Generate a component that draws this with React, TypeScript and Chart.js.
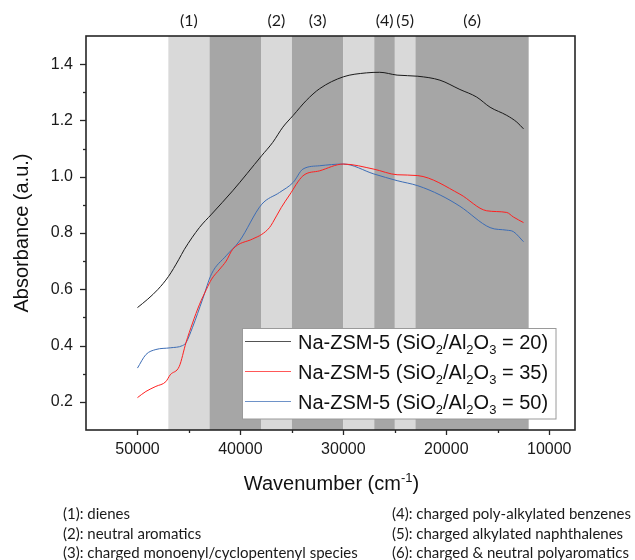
import React, { useEffect, useRef } from 'react';
import { Chart, registerables } from 'chart.js';

Chart.register(...registerables);

// ---- data ----
const WN_20 = [50000, 49000, 48000, 47000, 46000, 45440, 43990, 42800, 40750, 37930, 36860, 35880, 34870, 33600, 32300, 30000, 27760, 26470, 24780, 22770, 20620, 18680, 17050, 15750, 14130, 13150, 12500];
const ABS_20 = [0.535, 0.565, 0.6, 0.645, 0.705, 0.742, 0.819, 0.867, 0.95, 1.075, 1.122, 1.176, 1.218, 1.271, 1.313, 1.355, 1.369, 1.371, 1.361, 1.357, 1.343, 1.31, 1.283, 1.247, 1.218, 1.194, 1.17];

const WN_35 = [50000, 49180, 48210, 47240, 46820, 45940, 45290, 44650, 43990, 43300, 42800, 42000, 41390, 40750, 38800, 37930, 37180, 36860, 36040, 35230, 33930, 32300, 30000, 27050, 24780, 22770, 18680, 16080, 14130, 13490, 12500];
const ABS_35 = [0.215, 0.237, 0.255, 0.272, 0.296, 0.326, 0.41, 0.48, 0.545, 0.6, 0.636, 0.672, 0.7, 0.742, 0.779, 0.795, 0.819, 0.837, 0.89, 0.935, 1.003, 1.021, 1.045, 1.027, 1.007, 1.004, 0.938, 0.879, 0.873, 0.857, 0.837];

const WN_50 = [50000, 49180, 48210, 46820, 45620, 45290, 44650, 43670, 42800, 41390, 40100, 37930, 36200, 34870, 33930, 32300, 30000, 27050, 24780, 22770, 20600, 18680, 15750, 14130, 13490, 12500];
const ABS_50 = [0.32, 0.368, 0.386, 0.392, 0.4, 0.41, 0.465, 0.565, 0.655, 0.719, 0.771, 0.902, 0.944, 0.98, 1.027, 1.039, 1.045, 1.01, 0.986, 0.968, 0.935, 0.895, 0.819, 0.81, 0.805, 0.769];

const SERIES_RATIOS = ['20', '35', '50'];
const SERIES_COLORS = ['#1a1a1a', '#ff2020', '#3d6db5'];

const BAND_EDGES = [47000, 43000, 38000, 35000, 30000, 27000, 25000, 23000, 12000];
const BAND_SHADES = ['#d9d9d9', '#a6a6a6', '#d9d9d9', '#a6a6a6', '#d9d9d9', '#a6a6a6', '#d9d9d9', '#a6a6a6'];
const BAND_LABELS = ['(1)', '', '(2)', '(3)', '', '(4)', '(5)', '(6)'];

const X_MAJOR = [50000, 40000, 30000, 20000, 10000];
const X_MINOR = [45000, 35000, 25000, 15000];
const Y_MAJOR = [0.2, 0.4, 0.6, 0.8, 1.0, 1.2, 1.4];
const Y_MINOR = [0.3, 0.5, 0.7, 0.9, 1.1, 1.3];

const NOTES_LEFT = ['(1): dienes', '(2): neutral aromatics', '(3): charged monoenyl/cyclopentenyl species'];
const NOTES_RIGHT = ['(4): charged poly-alkylated benzenes', '(5): charged alkylated naphthalenes', '(6): charged & neutral polyaromatics'];

const ARIAL = '"Liberation Sans", Arial, sans-serif';
const CALIBRI = 'Lato, "Open Sans", sans-serif';

type Part = { t: string; sub?: boolean; sup?: boolean };

function drawRich(ctx: CanvasRenderingContext2D, parts: Part[], x: number, y: number, size: number, align: 'left' | 'center') {
  const small = Math.round(size * 0.66);
  let total = 0;
  for (const p of parts) {
    ctx.font = `${p.sub || p.sup ? small : size}px ${ARIAL}`;
    total += ctx.measureText(p.t).width;
  }
  let cx = align === 'center' ? x - total / 2 : x;
  ctx.textAlign = 'left';
  ctx.textBaseline = 'alphabetic';
  for (const p of parts) {
    ctx.font = `${p.sub || p.sup ? small : size}px ${ARIAL}`;
    const dy = p.sub ? size * 0.28 : p.sup ? -size * 0.42 : 0;
    ctx.fillText(p.t, cx, y + dy);
    cx += ctx.measureText(p.t).width;
  }
}

const decorPlugin = {
  id: 'decor',
  beforeDatasetsDraw(chart: any) {
    const { ctx, chartArea } = chart;
    const xs = chart.scales.x;
    ctx.save();
    for (let i = 0; i < BAND_SHADES.length; i++) {
      const a = xs.getPixelForValue(BAND_EDGES[i]);
      const b = xs.getPixelForValue(BAND_EDGES[i + 1]);
      ctx.fillStyle = BAND_SHADES[i];
      ctx.fillRect(a, chartArea.top, b - a, chartArea.bottom - chartArea.top);
    }
    ctx.restore();
  },
  afterDatasetsDraw(chart: any) {
    const { ctx, chartArea } = chart;
    const xs = chart.scales.x;
    const ys = chart.scales.y;
    const { left, right, top, bottom } = chartArea;
    ctx.save();
    // frame
    ctx.strokeStyle = '#262626';
    ctx.lineWidth = 1.6;
    ctx.strokeRect(left, top, right - left, bottom - top);
    // x ticks
    ctx.lineWidth = 1.3;
    for (const v of X_MAJOR) {
      const px = Math.round(xs.getPixelForValue(v)) + 0.5;
      ctx.beginPath(); ctx.moveTo(px, bottom); ctx.lineTo(px, bottom + 5); ctx.stroke();
    }
    for (const v of X_MINOR) {
      const px = Math.round(xs.getPixelForValue(v)) + 0.5;
      ctx.beginPath(); ctx.moveTo(px, bottom); ctx.lineTo(px, bottom + 3); ctx.stroke();
    }
    for (const v of Y_MAJOR) {
      const py = Math.round(ys.getPixelForValue(v)) + 0.5;
      ctx.beginPath(); ctx.moveTo(left, py); ctx.lineTo(left - 6, py); ctx.stroke();
    }
    for (const v of Y_MINOR) {
      const py = Math.round(ys.getPixelForValue(v)) + 0.5;
      ctx.beginPath(); ctx.moveTo(left, py); ctx.lineTo(left - 3, py); ctx.stroke();
    }
    // band labels
    ctx.fillStyle = '#1a1a1a';
    ctx.font = `16px ${CALIBRI}`;
    ctx.textAlign = 'center';
    ctx.textBaseline = 'middle';
    for (let i = 0; i < BAND_LABELS.length; i++) {
      if (!BAND_LABELS[i]) continue;
      const a = xs.getPixelForValue(BAND_EDGES[i]);
      const b = xs.getPixelForValue(BAND_EDGES[i + 1]);
      ctx.fillText(BAND_LABELS[i], (a + b) / 2, 21);
    }
    // legend
    const lx = 242.5, ly = 328.5, lw = 313.5, lh = 90.5;
    ctx.fillStyle = '#ffffff';
    ctx.fillRect(lx, ly, lw, lh);
    ctx.strokeStyle = '#9a9a9a';
    ctx.lineWidth = 1;
    ctx.strokeRect(lx, ly, lw, lh);
    const rows = [341.5, 371.5, 401.5];
    for (let i = 0; i < SERIES_RATIOS.length; i++) {
      ctx.strokeStyle = SERIES_COLORS[i];
      ctx.globalAlpha = 0.75;
      ctx.lineWidth = 1;
      ctx.beginPath(); ctx.moveTo(245, rows[i]); ctx.lineTo(291, rows[i]); ctx.stroke();
      ctx.globalAlpha = 1;
      ctx.fillStyle = '#111';
      drawRich(ctx, [
        { t: 'Na-ZSM-5 (SiO' }, { t: '2', sub: true }, { t: '/Al' }, { t: '2', sub: true },
        { t: 'O' }, { t: '3', sub: true }, { t: ` = ${SERIES_RATIOS[i]})` },
      ], 298, rows[i] + 7, 20, 'left');
    }
    // axis titles
    ctx.fillStyle = '#111';
    drawRich(ctx, [{ t: 'Wavenumber (cm' }, { t: '-1', sup: true }, { t: ')' }], (left + right) / 2 + 1, 490, 20, 'center');
    ctx.save();
    ctx.translate(28, (top + bottom) / 2);
    ctx.rotate(-Math.PI / 2);
    ctx.font = `20px ${ARIAL}`;
    ctx.textAlign = 'center';
    ctx.textBaseline = 'alphabetic';
    ctx.fillText('Absorbance (a.u.)', 0, 0);
    ctx.restore();
    // footnotes
    ctx.font = `15px ${CALIBRI}`;
    ctx.textAlign = 'left';
    ctx.textBaseline = 'middle';
    ctx.fillStyle = '#1a1a1a';
    const fy = [514, 534, 553];
    NOTES_LEFT.forEach((t, i) => ctx.fillText(t, 63, fy[i]));
    NOTES_RIGHT.forEach((t, i) => ctx.fillText(t, 392, fy[i]));
    ctx.restore();
  },
};

function toPoints(xs: number[], ys: number[]) {
  return xs.map((x, i) => ({ x, y: ys[i] }));
}

export default function App() {
  const ref = useRef<HTMLCanvasElement | null>(null);
  useEffect(() => {
    document.body.style.margin = '0';
    const canvas = ref.current;
    if (!canvas) return;
    const datasets = [
      toPoints(WN_20, ABS_20),
      toPoints(WN_35, ABS_35),
      toPoints(WN_50, ABS_50),
    ].map((data, i) => ({
      label: `Na-ZSM-5 (SiO2/Al2O3 = ${SERIES_RATIOS[i]})`,
      data,
      borderColor: SERIES_COLORS[i],
      borderWidth: 1,
      pointRadius: 0,
      fill: false,
      cubicInterpolationMode: 'monotone' as const,
    }));
    const chart = new Chart(canvas, {
      type: 'line',
      data: { datasets },
      plugins: [decorPlugin],
      options: {
        animation: false,
        responsive: false,
        maintainAspectRatio: false,
        devicePixelRatio: 1,
        layout: { padding: { left: 0, top: 36, right: 60, bottom: 0 } },
        plugins: { legend: { display: false }, tooltip: { enabled: false } },
        scales: {
          x: {
            type: 'linear',
            reverse: true,
            min: 7500,
            max: 55000,
            afterBuildTicks: (s: any) => { s.ticks = X_MAJOR.map((v) => ({ value: v })); },
            afterFit: (s: any) => { s.height = 130; },
            grid: { display: true, drawOnChartArea: false, drawTicks: true, tickLength: 5, tickColor: 'rgba(0,0,0,0)' },
            border: { display: false },
            ticks: { font: { family: ARIAL, size: 16 }, color: '#1a1a1a', padding: 5, maxRotation: 0, callback: (v: any) => String(v) },
          },
          y: {
            type: 'linear',
            min: 0.1,
            max: 1.5,
            afterBuildTicks: (s: any) => { s.ticks = Y_MAJOR.map((v) => ({ value: v })); },
            afterFit: (s: any) => { s.width = 86; },
            grid: { display: true, drawOnChartArea: false, drawTicks: true, tickLength: 6, tickColor: 'rgba(0,0,0,0)' },
            border: { display: false },
            ticks: { font: { family: ARIAL, size: 16 }, color: '#1a1a1a', padding: 7, callback: (v: any) => Number(v).toFixed(1) },
          },
        },
      },
    });
    return () => chart.destroy();
  }, []);
  return <canvas ref={ref} width={635} height={560} style={{ display: 'block' }} />;
}
